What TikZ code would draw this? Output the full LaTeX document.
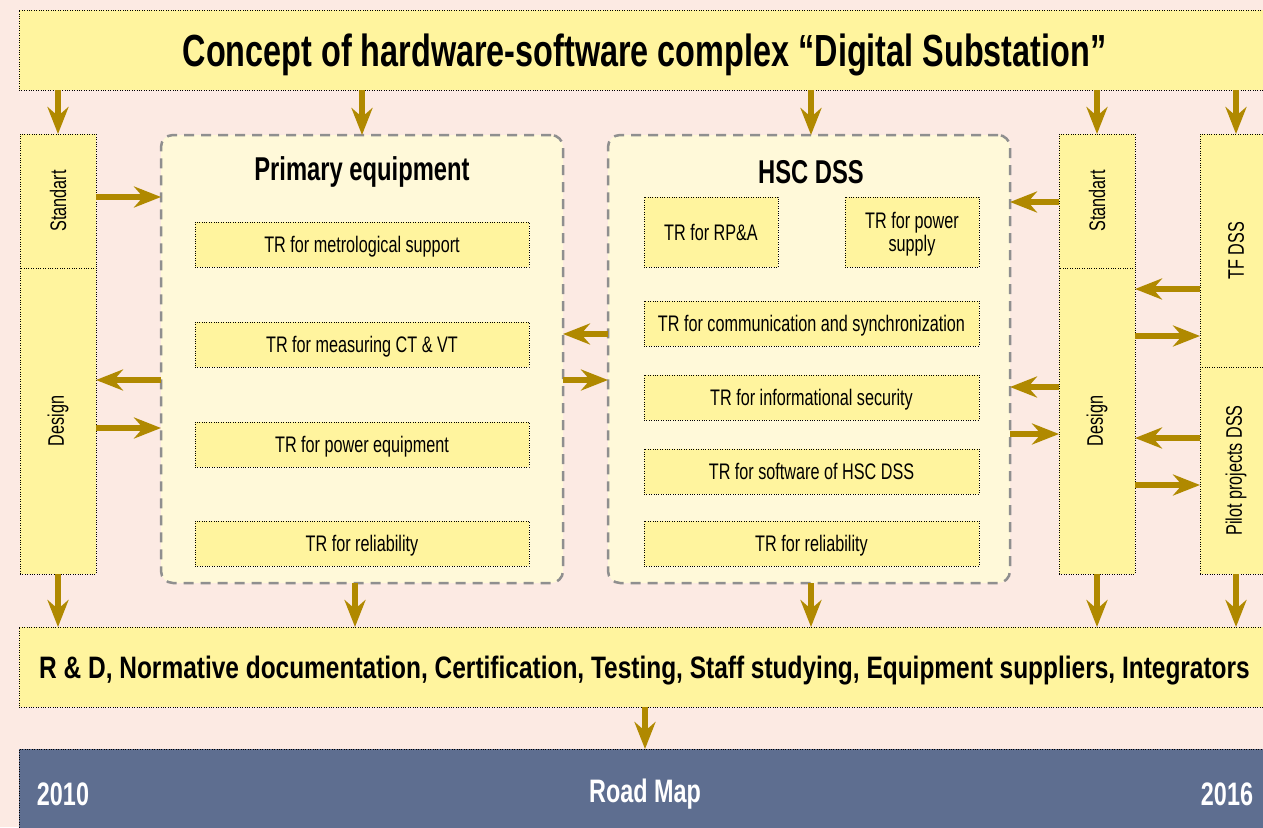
\documentclass[tikz,border=0pt]{standalone}
\usepackage{fontspec}
\setmainfont{Liberation Sans}[FakeStretch=0.72]
\usetikzlibrary{arrows.meta}
\definecolor{bgc}{HTML}{FCEAE3}
\definecolor{ylw}{HTML}{FFF49E}
\definecolor{panelc}{HTML}{FFF9D9}
\definecolor{arrowc}{HTML}{B08900}
\definecolor{roadc}{HTML}{5E6E90}
\definecolor{dgray}{HTML}{8F8F8F}
\newcommand{\lab}{\fontsize{22.5}{23}\selectfont}
\newcommand{\ptitle}{\fontsize{33}{36}\selectfont\bfseries}
\tikzset{
  ybox/.style={draw=black, line width=0.8pt, dash pattern=on 0.8pt off 1.6pt, fill=ylw,
    inner sep=0pt, outer sep=0pt, anchor=north west, font=\lab, align=center, text depth=0pt},
  panelbox/.style={draw=dgray, line width=2.5pt, dash pattern=on 10pt off 7pt,
    rounded corners=12pt, fill=panelc, inner sep=0pt, outer sep=0pt, anchor=north west},
  vlab/.style={rotate=90, font=\lab, inner sep=0pt},
  arr/.style={draw=arrowc, line width=5.5pt, -{Stealth[length=27pt,width=21pt,inset=9pt]}},
}
\begin{document}
\begin{tikzpicture}[x=1pt,y=-1pt]
\useasboundingbox (0,0) rectangle (1263,827);
\clip (0,0) rectangle (1263,827);
\fill[bgc] (0,0) rectangle (1263,827);

% top box
\node[ybox, minimum width=1253pt, minimum height=80pt] (top) at (19,10) {};
\node[font=\fontsize{45}{48}\selectfont\bfseries] (topt) at ([xshift=-1pt,yshift=-5pt]top.center) {Concept of hardware-software complex “Digital Substation”};

% left column
\node[ybox, minimum width=76pt, minimum height=134pt] (stdL) at (20,134) {};
\node[vlab] (stdLt) at (stdL.center) {Standart};
\node[ybox, minimum width=76pt, minimum height=306pt] (desL) at (20,268) {};
\node[vlab] (desLt) at (desL.center) {Design};

% right columns
\node[ybox, minimum width=76pt, minimum height=134pt] (stdR) at (1059,134) {};
\node[vlab] (stdRt) at (stdR.center) {Standart};
\node[ybox, minimum width=76pt, minimum height=306pt] (desR) at (1059,268) {};
\node[vlab] (desRt) at (desR.center) {Design};
\node[ybox, minimum width=72pt, minimum height=233pt] (tf) at (1200,134) {};
\node[vlab] (tft) at (tf.center) {TF DSS};
\node[ybox, minimum width=72pt, minimum height=207pt] (pilot) at (1200,367) {};
\node[vlab] (pilott) at (pilot.center) {Pilot projects DSS};

% primary equipment panel
\node[panelbox, minimum width=402pt, minimum height=448pt] (prim) at (161,135) {};
\node[font=\ptitle] (primt) at (362,172) {Primary equipment};
\node[ybox, minimum width=334pt, minimum height=45pt] (p1) at (195,222) {TR for metrological support};
\node[ybox, minimum width=334pt, minimum height=45pt] (p2) at (195,322) {TR for measuring CT \& VT};
\node[ybox, minimum width=334pt, minimum height=45pt] (p3) at (195,422) {TR for power equipment};
\node[ybox, minimum width=334pt, minimum height=45pt] (p4) at (195,521) {TR for reliability};

% HSC DSS panel
\node[panelbox, minimum width=402pt, minimum height=448pt] (hsc) at (608,135) {};
\node[font=\ptitle] (hsct) at (811,172) {HSC DSS};
\node[ybox, minimum width=134pt, minimum height=70pt] (h1) at (644,197) {TR for RP\&A};
\node[ybox, minimum width=134pt, minimum height=70pt] (h2) at (845,197) {TR for power\\supply};
\node[ybox, minimum width=335pt, minimum height=45pt] (h3) at (644,301) {TR for communication and synchronization};
\node[ybox, minimum width=335pt, minimum height=45pt] (h4) at (644,375) {TR for informational security};
\node[ybox, minimum width=335pt, minimum height=45pt] (h5) at (644,449) {TR for software of HSC DSS};
\node[ybox, minimum width=335pt, minimum height=45pt] (h6) at (644,521) {TR for reliability};

% bottom box
\node[ybox, minimum width=1253pt, minimum height=80pt] (bot) at (19,627) {};
\node[font=\fontsize{31}{34}\selectfont\bfseries] (bott) at ([xshift=-1pt,yshift=-4pt]bot.center) {\scalebox{1.096}[1]{R \& D, Normative documentation, Certification, Testing, Staff studying, Equipment suppliers, Integrators}};

% road map
\node[ybox, fill=roadc, minimum width=1253pt, minimum height=90pt] (road) at (19,749) {};
\node[font=\fontsize{32.5}{34}\selectfont\bfseries, text=white] (y1) at (63,794) {2010};
\node[font=\fontsize{32.5}{34}\selectfont\bfseries, text=white] (rm) at (645,794) {Road Map};
\node[font=\fontsize{32.5}{34}\selectfont\bfseries, text=white] (y2) at (1227,794) {2016};

% arrows from top
\draw[arr] (top.south -| stdL.north) -- (stdL.north);
\draw[arr] (top.south -| prim.north) -- (prim.north);
\draw[arr] (top.south -| hsct) -- (hsct |- hsc.north);
\draw[arr] (top.south -| stdR.north) -- (stdR.north);
\draw[arr] (top.south -| tf.north) -- (tf.north);

% arrows to bottom
\draw[arr] (desL.south) -- (desL.south |- bot.north);
\draw[arr] (355,583) -- (355,627);
\draw[arr] (hsct |- hsc.south) -- (hsct |- bot.north);
\draw[arr] (desR.south) -- (desR.south |- bot.north);
\draw[arr] (pilot.south) -- (pilot.south |- bot.north);
\draw[arr] (bot.south -| rm) -- (rm |- road.north);

% left side horizontals
\draw[arr] (stdL.east |- 0,197) -- (prim.west |- 0,197);
\draw[arr] (prim.west |- 0,380) -- (desL.east |- 0,380);
\draw[arr] (desL.east |- 0,428) -- (prim.west |- 0,428);

% between panels
\draw[arr] (hsc.west |- 0,334) -- (prim.east |- 0,334);
\draw[arr] (prim.east |- 0,380) -- (hsc.west |- 0,380);

% right side horizontals
\draw[arr] (stdR.west |- 0,202) -- (hsc.east |- 0,202);
\draw[arr] (desR.west |- 0,387) -- (hsc.east |- 0,387);
\draw[arr] (hsc.east |- 0,434) -- (desR.west |- 0,434);
\draw[arr] (tf.west |- 0,289) -- (desR.east |- 0,289);
\draw[arr] (desR.east |- 0,336) -- (tf.west |- 0,336);
\draw[arr] (pilot.west |- 0,438) -- (desR.east |- 0,438);
\draw[arr] (desR.east |- 0,485) -- (pilot.west |- 0,485);
\end{tikzpicture}
\end{document}
